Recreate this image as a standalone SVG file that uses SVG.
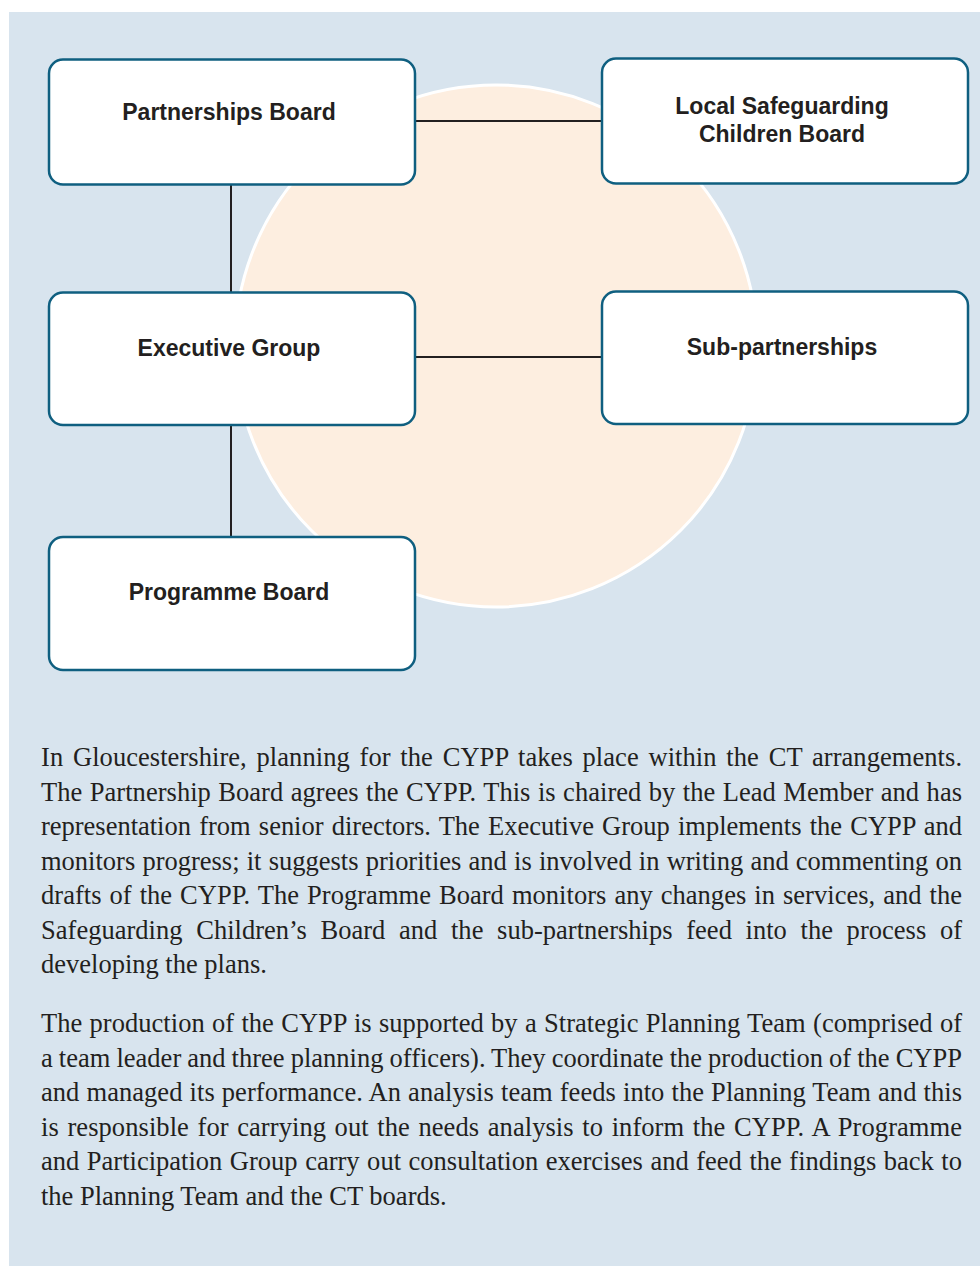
<svg xmlns="http://www.w3.org/2000/svg" width="980" height="1266" viewBox="0 0 980 1266">
<style>
.box{fill:#ffffff;stroke:#0f5f80;stroke-width:2.5}
.lbl{font-family:"Liberation Sans",Arial,sans-serif;font-weight:bold;font-size:23px;fill:#231f20;text-anchor:middle}
.conn{stroke:#231f20;stroke-width:2;fill:none}
.body{font-family:"Liberation Serif","Times New Roman",serif;font-size:26.5px;fill:#231f20}
</style>
<rect x="9" y="12" width="971" height="1254" fill="#d8e4ee"/>
<circle cx="496" cy="346" r="261" fill="#fdeee0" stroke="#ffffff" stroke-width="3"/>
<g id="connectors">
<line class="conn" x1="415" y1="121" x2="602" y2="121"/>
<line class="conn" x1="415" y1="357" x2="602" y2="357"/>
<line class="conn" x1="231" y1="185" x2="231" y2="292"/>
<line class="conn" x1="231" y1="425" x2="231" y2="537"/>
</g>
<g id="partnerships-board">
<rect class="box" x="49" y="59.5" width="366" height="125" rx="14"/>
<text class="lbl" x="229" y="120">Partnerships Board</text>
</g>
<g id="lscb">
<rect class="box" x="602" y="58.5" width="366" height="125" rx="14"/>
<text class="lbl" x="782" y="114">Local Safeguarding</text>
<text class="lbl" x="782" y="142">Children Board</text>
</g>
<g id="executive-group">
<rect class="box" x="49" y="292.5" width="366" height="132.5" rx="14"/>
<text class="lbl" x="229" y="356">Executive Group</text>
</g>
<g id="sub-partnerships">
<rect class="box" x="602" y="291.5" width="366" height="132.5" rx="14"/>
<text class="lbl" x="782" y="355">Sub-partnerships</text>
</g>
<g id="programme-board">
<rect class="box" x="49" y="537" width="366" height="133" rx="14"/>
<text class="lbl" x="229" y="600">Programme Board</text>
</g>
<g id="text">
<text class="body" x="41" y="766" word-spacing="3.1" textLength="921" lengthAdjust="spacing">In Gloucestershire, planning for the CYPP takes place within the CT arrangements.</text>
<text class="body" x="41" y="800.5" word-spacing="0.8" textLength="921" lengthAdjust="spacing">The Partnership Board agrees the CYPP. This is chaired by the Lead Member and has</text>
<text class="body" x="41" y="835" word-spacing="1.6" textLength="921" lengthAdjust="spacing">representation from senior directors. The Executive Group implements the CYPP and</text>
<text class="body" x="41" y="869.5" word-spacing="0.6" textLength="921" lengthAdjust="spacing">monitors progress; it suggests priorities and is involved in writing and commenting on</text>
<text class="body" x="41" y="904" word-spacing="1.3" textLength="921" lengthAdjust="spacing">drafts of the CYPP. The Programme Board monitors any changes in services, and the</text>
<text class="body" x="41" y="938.5" word-spacing="7" textLength="921" lengthAdjust="spacing">Safeguarding Children’s Board and the sub-partnerships feed into the process of</text>
<text class="body" x="41" y="973">developing the plans.</text>
<text class="body" x="41" y="1032" word-spacing="0.6" textLength="921" lengthAdjust="spacing">The production of the CYPP is supported by a Strategic Planning Team (comprised of</text>
<text class="body" x="41" y="1066.5" word-spacing="-0.6" textLength="921" lengthAdjust="spacing">a team leader and three planning officers). They coordinate the production of the CYPP</text>
<text class="body" x="41" y="1101" word-spacing="0.4" textLength="921" lengthAdjust="spacing">and managed its performance. An analysis team feeds into the Planning Team and this</text>
<text class="body" x="41" y="1135.5" word-spacing="1.9" textLength="921" lengthAdjust="spacing">is responsible for carrying out the needs analysis to inform the CYPP. A Programme</text>
<text class="body" x="41" y="1170" word-spacing="0.9" textLength="921" lengthAdjust="spacing">and Participation Group carry out consultation exercises and feed the findings back to</text>
<text class="body" x="41" y="1204.5">the Planning Team and the CT boards.</text>
</g>
</svg>
